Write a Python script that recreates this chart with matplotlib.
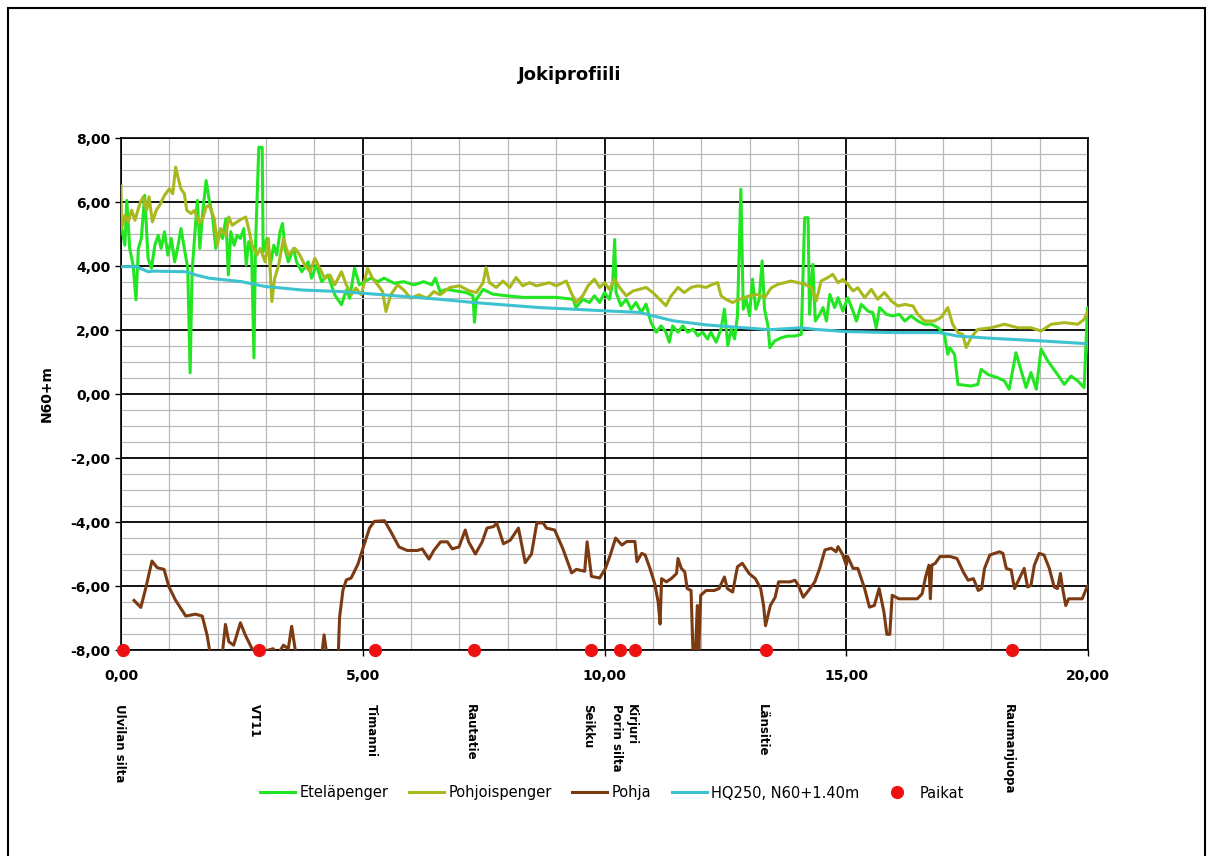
import matplotlib.pyplot as plt
from matplotlib.patches import Rectangle
from matplotlib.ticker import MultipleLocator, FuncFormatter

# Eteläpenger (etelärannan penger), km / N60+m
etela_km = [0.0, 0.08, 0.12, 0.18, 0.25, 0.31, 0.36, 0.42, 0.49, 0.56, 0.63, 0.70, 0.77, 0.83,
            0.90, 0.97, 1.04, 1.11, 1.17, 1.24, 1.31, 1.38, 1.43, 1.47, 1.54, 1.58, 1.63, 1.69,
            1.76, 1.82, 1.89, 1.96, 2.03, 2.10, 2.17, 2.22, 2.27, 2.34, 2.40, 2.47, 2.54, 2.59,
            2.64, 2.70, 2.75, 2.78, 2.85, 2.92, 2.94, 3.02, 3.09, 3.16, 3.22, 3.29, 3.34, 3.39,
            3.46, 3.57, 3.63, 3.74, 3.87, 3.94, 4.04, 4.15, 4.28, 4.42, 4.56, 4.66, 4.73, 4.83,
            4.93, 5.03, 5.17, 5.31, 5.44, 5.65, 5.85, 6.06, 6.26, 6.43, 6.50, 6.60, 6.73, 6.94,
            7.14, 7.28, 7.31, 7.35, 7.49, 7.69, 7.97, 8.31, 8.66, 9.00, 9.35, 9.41, 9.55, 9.69,
            9.79, 9.90, 10.00, 10.10, 10.17, 10.21, 10.24, 10.34, 10.45, 10.55, 10.65, 10.76,
            10.86, 10.96, 11.07, 11.17, 11.27, 11.34, 11.41, 11.52, 11.62, 11.72, 11.83, 11.93,
            12.03, 12.13, 12.20, 12.31, 12.41, 12.48, 12.55, 12.62, 12.69, 12.75, 12.82, 12.87,
            12.93, 13.00, 13.06, 13.13, 13.20, 13.26, 13.31, 13.38, 13.42, 13.52, 13.66, 13.79,
            13.93, 14.07, 14.14, 14.21, 14.24, 14.31, 14.36, 14.45, 14.52, 14.59, 14.66, 14.76,
            14.83, 14.93, 15.03, 15.14, 15.21, 15.31, 15.45, 15.55, 15.62, 15.69, 15.83, 15.96,
            16.10, 16.21, 16.34, 16.48, 16.62, 16.76, 16.90, 17.03, 17.10, 17.14, 17.24, 17.31,
            17.58, 17.72, 17.79, 17.93, 18.13, 18.27, 18.37, 18.51, 18.62, 18.72, 18.82, 18.93,
            19.03, 19.17, 19.37, 19.51, 19.65, 19.79, 19.92, 19.99, 20.03]
etela_m = [5.3, 4.65, 6.05, 4.55, 4.03, 2.94, 4.55, 4.86, 6.21, 4.24, 3.93, 4.65, 4.96, 4.55,
           5.07, 4.34, 4.86, 4.13, 4.55, 5.17, 4.55, 3.93, 0.66, 3.82, 5.27, 6.05, 4.55, 5.69,
           6.67, 6.10, 5.59, 4.55, 5.07, 4.86, 5.48, 3.72, 5.07, 4.65, 4.96, 4.86, 5.17, 4.03,
           4.76, 4.45, 1.13, 4.55, 7.71, 7.71, 4.45, 4.86, 4.03, 4.65, 4.34, 5.07, 5.33, 4.55,
           4.13, 4.55, 4.13, 3.82, 4.13, 3.62, 4.03, 3.51, 3.72, 3.10, 2.79, 3.25, 2.99, 3.93,
           3.41, 3.51, 3.62, 3.51, 3.62, 3.46, 3.51, 3.41, 3.51, 3.41, 3.62, 3.20, 3.27, 3.22,
           3.17, 3.07, 2.24, 2.96, 3.27, 3.12, 3.07, 3.02, 3.02, 3.02, 2.96, 2.70, 2.96, 2.86,
           3.07, 2.86, 3.17, 2.96, 3.48, 4.83, 3.17, 2.76, 2.96, 2.65, 2.86, 2.55,
           2.81, 2.24, 1.93, 2.13, 1.93, 1.62, 2.13, 1.93, 2.13, 1.93, 2.03, 1.82,
           1.93, 1.72, 1.93, 1.62, 2.03, 2.65, 1.51, 2.03, 1.72, 2.45, 6.40, 2.65,
           2.96, 2.45, 3.59, 2.65, 2.96, 4.16, 2.65, 2.13, 1.45, 1.66, 1.76, 1.81,
           1.81, 1.86, 5.51, 5.51, 2.49, 4.05, 2.28, 2.49, 2.70, 2.28, 3.11, 2.70,
           3.01, 2.59, 3.01, 2.59, 2.28, 2.80, 2.59, 2.54, 2.07, 2.70, 2.49, 2.44,
           2.49, 2.28, 2.44, 2.28, 2.18, 2.18, 2.07, 1.86, 1.24, 1.45, 1.24, 0.30,
           0.25, 0.30, 0.77, 0.61, 0.51, 0.41, 0.15, 1.29, 0.72, 0.20, 0.67, 0.15,
           1.40, 1.03, 0.61, 0.30, 0.56, 0.41, 0.20, 2.70, 0.82]

# Pohjoispenger
pohjois_km = [0.0, 0.01, 0.08, 0.15, 0.22, 0.29, 0.39, 0.46, 0.53, 0.58, 0.65, 0.73, 0.80, 0.90,
              1.00, 1.07, 1.13, 1.17, 1.24, 1.31, 1.36, 1.45, 1.52, 1.62, 1.69, 1.76, 1.82, 1.93,
              1.99, 2.06, 2.17, 2.23, 2.30, 2.40, 2.51, 2.58, 2.64, 2.71, 2.81, 2.88, 2.98, 3.05,
              3.12, 3.18, 3.26, 3.36, 3.46, 3.60, 3.70, 3.80, 3.91, 4.01, 4.11, 4.21, 4.32, 4.42,
              4.56, 4.66, 4.76, 4.86, 4.97, 5.10, 5.20, 5.31, 5.41, 5.48, 5.58, 5.72, 5.85, 5.99,
              6.16, 6.33, 6.47, 6.60, 6.80, 7.00, 7.21, 7.35, 7.49, 7.55, 7.62, 7.76, 7.90, 8.04,
              8.17, 8.31, 8.45, 8.59, 8.73, 8.86, 9.00, 9.21, 9.31, 9.41, 9.55, 9.66, 9.79, 9.90,
              10.00, 10.10, 10.21, 10.31, 10.45, 10.59, 10.72, 10.86, 11.00, 11.14, 11.27, 11.38,
              11.52, 11.65, 11.79, 11.93, 12.10, 12.24, 12.34, 12.41, 12.51, 12.65, 12.79, 13.00,
              13.17, 13.31, 13.45, 13.59, 13.73, 13.86, 14.00, 14.14, 14.28, 14.38, 14.48, 14.62,
              14.72, 14.83, 14.93, 15.03, 15.14, 15.24, 15.38, 15.52, 15.65, 15.79, 15.93, 16.07,
              16.21, 16.38, 16.48, 16.62, 16.82, 16.96, 17.10, 17.20, 17.31, 17.41, 17.48, 17.58,
              17.72, 18.00, 18.27, 18.55, 18.82, 19.03, 19.24, 19.51, 19.79, 19.92, 20.03]
pohjois_m = [6.50, 5.17, 5.59, 5.38, 5.74, 5.43, 5.95, 6.16, 5.74, 6.16, 5.38, 5.74, 5.90, 6.21,
             6.41, 6.26, 7.09, 6.83, 6.41, 6.26, 5.74, 5.64, 5.74, 5.33, 5.48, 5.84, 5.90, 5.48,
             4.65, 5.17, 4.96, 5.53, 5.27, 5.38, 5.48, 5.53, 5.17, 4.65, 4.34, 4.55, 4.13, 4.86,
             2.89, 3.62, 4.03, 4.86, 4.34, 4.55, 4.34, 4.03, 3.82, 4.24, 3.93, 3.62, 3.72, 3.41,
             3.82, 3.41, 3.10, 3.31, 3.10, 3.93, 3.62, 3.41, 3.20, 2.58, 3.10, 3.41, 3.25, 2.99,
             3.10, 2.99, 3.20, 3.10, 3.33, 3.38, 3.22, 3.17, 3.48, 3.95, 3.48, 3.33, 3.53, 3.33,
             3.64, 3.38, 3.48, 3.38, 3.43, 3.48, 3.38, 3.53, 3.17, 2.86, 3.07, 3.38, 3.59, 3.33,
             3.48, 3.27, 3.59, 3.33, 3.07, 3.22, 3.27, 3.33, 3.17, 2.96, 2.76, 3.07,
             3.33, 3.17, 3.33, 3.38, 3.33, 3.43, 3.48, 3.07, 2.96, 2.86, 2.96, 3.07,
             3.11, 3.01, 3.32, 3.43, 3.48, 3.53, 3.48, 3.43, 3.32, 2.91, 3.53, 3.64,
             3.74, 3.48, 3.58, 3.43, 3.22, 3.32, 3.01, 3.27, 2.96, 3.17, 2.91, 2.75,
             2.80, 2.75, 2.49, 2.28, 2.28, 2.39, 2.70, 2.18, 1.92, 1.86, 1.45, 1.76,
             2.02, 2.07, 2.18, 2.07, 2.07, 1.97, 2.18, 2.23, 2.18, 2.33, 2.70]

# Pohja (uoman pohja)
pohja_km = [0.27, 0.41, 0.51, 0.64, 0.75, 0.89, 0.99, 1.13, 1.34, 1.54, 1.68, 1.78, 1.85, 1.95,
            2.09, 2.16, 2.23, 2.33, 2.47, 2.57, 2.71, 2.91, 3.15, 3.22, 3.36, 3.46, 3.53, 3.60,
            3.66, 4.14, 4.20, 4.25, 4.30, 4.49, 4.52, 4.59, 4.66, 4.76, 4.90, 5.00, 5.14, 5.24,
            5.45, 5.58, 5.75, 5.92, 6.13, 6.23, 6.37, 6.47, 6.61, 6.75, 6.85, 6.99, 7.12, 7.19,
            7.33, 7.47, 7.57, 7.71, 7.77, 7.91, 8.05, 8.22, 8.36, 8.49, 8.60, 8.73, 8.80, 8.97,
            9.14, 9.32, 9.42, 9.59, 9.64, 9.73, 9.90, 10.02, 10.12, 10.23, 10.36, 10.46, 10.63,
            10.67, 10.77, 10.84, 10.94, 11.04, 11.11, 11.15, 11.18, 11.28, 11.38, 11.49, 11.52,
            11.59, 11.66, 11.71, 11.79, 11.83, 11.88, 11.92, 11.95, 11.99, 12.10, 12.27, 12.37,
            12.48, 12.54, 12.65, 12.75, 12.85, 12.99, 13.12, 13.23, 13.29, 13.33, 13.43, 13.53,
            13.60, 13.70, 13.84, 13.94, 14.01, 14.11, 14.22, 14.35, 14.45, 14.56, 14.69, 14.79,
            14.83, 14.93, 15.00, 15.03, 15.14, 15.24, 15.38, 15.48, 15.58, 15.68, 15.78, 15.84,
            15.90, 15.95, 16.09, 16.26, 16.47, 16.57, 16.64, 16.71, 16.74, 16.77, 16.84, 16.94,
            17.15, 17.29, 17.42, 17.52, 17.63, 17.73, 17.80, 17.86, 17.97, 18.07, 18.17, 18.24,
            18.31, 18.41, 18.48, 18.58, 18.68, 18.75, 18.82, 18.89, 18.99, 19.09, 19.20, 19.30,
            19.37, 19.43, 19.47, 19.54, 19.60, 19.74, 19.88, 19.98, 20.05]
pohja_m = [-6.45, -6.67, -6.08, -5.22, -5.43, -5.48, -6.02, -6.45, -6.94, -6.88, -6.94, -7.53,
           -8.17, -8.20, -8.20, -7.20, -7.74, -7.85, -7.15, -7.53, -7.96, -8.06, -7.96, -8.20,
           -7.85, -7.96, -7.26, -7.96, -8.30, -8.30, -7.53, -8.06, -8.30, -8.30, -6.99, -6.13,
           -5.81, -5.75, -5.32, -4.84, -4.19, -3.98, -3.96, -4.30, -4.78, -4.89, -4.89, -4.84,
           -5.16, -4.89, -4.62, -4.62, -4.84, -4.78, -4.25, -4.62, -5.00, -4.62, -4.19, -4.14,
           -4.03, -4.68, -4.57, -4.19, -5.27, -5.00, -4.03, -4.03, -4.19, -4.25, -4.84, -5.59,
           -5.48, -5.54, -4.62, -5.70, -5.75, -5.45, -5.03, -4.50, -4.72, -4.61, -4.61,
           -5.24, -4.98, -5.03, -5.45, -5.93, -6.50, -7.19, -5.77, -5.87, -5.77, -5.61, -5.14,
           -5.45, -5.56, -6.08, -6.14, -8.08, -8.08, -6.61, -8.08, -6.29, -6.14, -6.14, -6.08,
           -5.72, -6.08, -6.19, -5.40, -5.29, -5.61, -5.77, -6.08, -6.61, -7.24, -6.61, -6.35,
           -5.87, -5.87, -5.87, -5.82, -5.98, -6.35, -6.14, -5.87, -5.45, -4.87, -4.82, -4.93,
           -4.77, -5.03, -5.35, -5.08, -5.45, -5.45, -6.08, -6.66, -6.61, -6.08, -6.82, -7.51,
           -7.51, -6.29, -6.40, -6.40, -6.40, -6.24, -5.72, -5.35, -6.40, -5.35, -5.29, -5.08,
           -5.08, -5.14, -5.56, -5.82, -5.77, -6.14, -6.08, -5.45, -5.03, -4.98, -4.93, -4.98,
           -5.45, -5.50, -6.08, -5.77, -5.45, -6.03, -5.98, -5.35, -4.98, -5.03, -5.45, -6.03,
           -6.08, -5.61, -6.03, -6.61, -6.40, -6.40, -6.40, -6.03, -5.93]

# HQ250 -vedenkorkeus
hq_km = [0.0, 0.32, 0.56, 0.66, 1.35, 1.55, 1.82, 2.50, 2.98, 3.33, 3.74, 4.56, 5.00, 6.59,
         7.28, 7.97, 8.66, 9.35, 10.00, 10.72, 11.41, 12.10, 12.79, 13.41, 14.07, 14.35, 15.00,
         15.93, 16.93, 17.31, 18.00, 19.03, 20.00]
hq_m = [3.98, 3.98, 3.82, 3.84, 3.82, 3.72, 3.62, 3.51, 3.36, 3.31, 3.25, 3.20, 3.15, 2.96,
        2.86, 2.78, 2.70, 2.65, 2.60, 2.55, 2.29, 2.16, 2.08, 2.01, 2.07, 2.02, 1.95,
        1.92, 1.92, 1.81, 1.74, 1.66, 1.57]

# Paikat
paikka_km = [0.04, 2.85, 5.25, 7.30, 9.73, 10.33, 10.64, 13.34, 18.43]
paikka_nimet = ["Ulvilan silta", "VT11", "Timanni", "Rautatie", "Seikku", "Porin silta",
                "Kirjuri", "Länsitie", "Raumanjuopa"]
paikka_taso = -8.0

fig = plt.figure(figsize=(12.13, 8.56), dpi=100)
ax = fig.add_axes([121 / 1213, 1 - 650 / 856, 967 / 1213, 512 / 856])

ax.plot(etela_km, etela_m, color="#22e622", lw=2.2, label="Eteläpenger", zorder=3)
ax.plot(pohjois_km, pohjois_m, color="#a9b81c", lw=2.2, label="Pohjoispenger", zorder=3)
ax.plot(pohja_km, pohja_m, color="#7c3a12", lw=2.2, label="Pohja", zorder=3)
ax.plot(hq_km, hq_m, color="#3cc3cf", lw=2.2, label="HQ250, N60+1.40m", zorder=4)
ax.plot(paikka_km, [paikka_taso] * len(paikka_km), "o", color="#ee1111", ms=8.5,
        ls="none", label="Paikat", clip_on=False, zorder=5)

ax.set_xlim(0, 20)
ax.set_ylim(-8, 8)
ax.xaxis.set_major_locator(MultipleLocator(5))
ax.xaxis.set_minor_locator(MultipleLocator(1))
ax.yaxis.set_major_locator(MultipleLocator(2))
ax.yaxis.set_minor_locator(MultipleLocator(0.5))
ax.grid(which="minor", color="#b8b8b8", lw=0.9)
ax.grid(which="major", color="black", lw=1.3)
ax.set_axisbelow(True)

pilkku = FuncFormatter(lambda v, p: f"{v:.2f}".replace(".", ","))
ax.xaxis.set_major_formatter(pilkku)
ax.yaxis.set_major_formatter(pilkku)
ax.tick_params(which="major", length=4, labelsize=10, width=1)
ax.tick_params(which="minor", length=0)
ax.tick_params(axis="x", pad=10)
for lbl in ax.get_xticklabels() + ax.get_yticklabels():
    lbl.set_fontweight("bold")
for s in ax.spines.values():
    s.set_color("black")
    s.set_linewidth(1.2)

ax.set_ylabel("N60+m", fontsize=10, fontweight="bold", labelpad=12)
fig.text(570 / 1213, 1 - 75 / 856, "Jokiprofiili", fontsize=13, fontweight="bold",
         ha="center", va="center")

# paikkojen nimet akselin alle
trans = ax.get_xaxis_transform()
for km, nimi in zip(paikka_km, paikka_nimet):
    ax.text(km - 0.08, -0.105, nimi, transform=trans, rotation=270, ha="center", va="top",
            fontsize=8.5, fontweight="bold", clip_on=False)

ax.legend(loc="center", bbox_to_anchor=(612 / 1213, 1 - 793 / 856),
          bbox_transform=fig.transFigure, ncol=5, frameon=False, fontsize=10.5,
          handlelength=2.4, handletextpad=0.3, columnspacing=1.4)

# kuvan kehys
fig.patches.append(Rectangle((8 / 1213, -0.02), 1197 / 1213, 1 - 8 / 856 + 0.02,
                             transform=fig.transFigure, fill=False, edgecolor="black", lw=1.5))

fig.savefig("out.png", dpi=100)
